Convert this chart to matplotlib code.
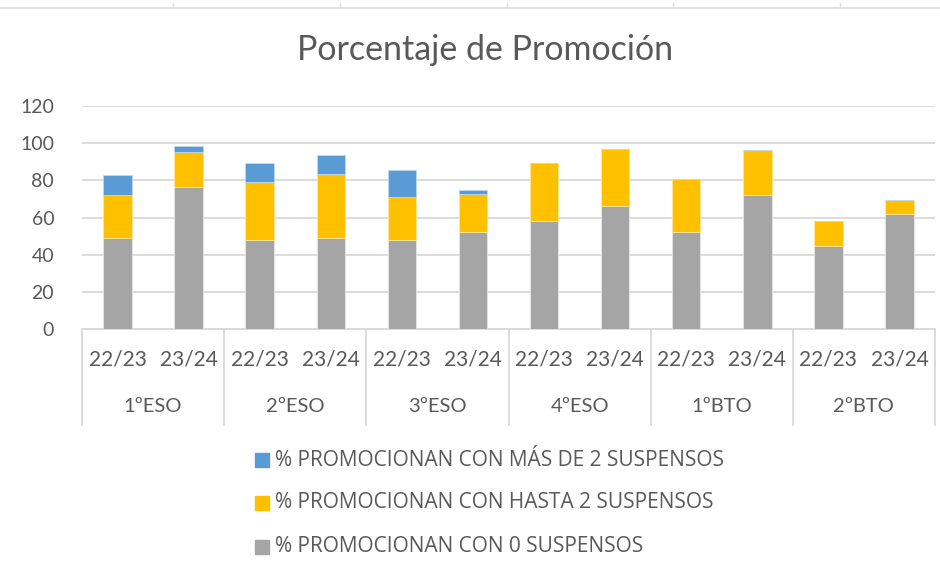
import matplotlib
matplotlib.use("Agg")
import matplotlib.pyplot as plt
from matplotlib.lines import Line2D
import numpy as np

plt.rcParams['font.family'] = ['Lato', 'DejaVu Sans']

groups = ["1ºESO", "2ºESO", "3ºESO", "4ºESO", "1ºBTO", "2ºBTO"]
years = ["22/23", "23/24"]
cero = [48.9, 76.3, 48.0, 48.9, 48.0, 52.3, 58.2, 66.1, 52.3, 72.0, 44.6, 61.8]
hasta2 = [23.1, 19.0, 31.0, 34.4, 23.1, 20.6, 31.0, 30.8, 28.3, 24.2, 13.6, 7.7]
mas2 = [11.1, 3.4, 10.2, 10.2, 14.7, 1.8, 0, 0, 0, 0, 0, 0]
series_names = ["% PROMOCIONAN CON MÁS DE 2 SUSPENSOS",
                "% PROMOCIONAN CON HASTA 2 SUSPENSOS",
                "% PROMOCIONAN CON 0 SUSPENSOS"]
title = "Porcentaje de Promoción"

c_gray = "#A5A5A5"
c_yel = "#FFC000"
c_blue = "#5B9BD5"
txt = "#595959"
grid_c = "#D9D9D9"

W, H = 940, 578
fig = plt.figure(figsize=(W / 100, H / 100), dpi=100)
ax = fig.add_axes([82 / W, 1 - 329.3 / H, (935 - 82) / W, (329.3 - 106) / H])

n = len(cero)
x = np.arange(n)
bw = 0.4
cero_a = np.array(cero); h2 = np.array(hasta2); m2 = np.array(mas2)
ax.bar(x, cero_a, bw, color=c_gray, edgecolor="#E6E6E6", linewidth=0.6, zorder=3)
ax.bar(x, h2, bw, bottom=cero_a, color=c_yel, edgecolor="#FFE699", linewidth=0.6, zorder=3)
ax.bar(x, m2, bw, bottom=cero_a + h2, color=c_blue, edgecolor="#BDD7EE", linewidth=0.6, zorder=3)

ax.set_xlim(-0.5, n - 0.5)
ax.set_ylim(0, 120)
ax.set_yticks(np.arange(0, 121, 20))
ax.yaxis.grid(True, color=grid_c, linewidth=1.3, zorder=0)
ax.tick_params(axis='y', length=0, pad=20, labelsize=14, labelcolor=txt)
ax.set_xticks([])
for s in ["top", "right", "left"]:
    ax.spines[s].set_visible(False)
ax.spines["bottom"].set_color(grid_c)
ax.spines["bottom"].set_linewidth(1.3)

# category labels
trans = ax.get_xaxis_transform()
ax_h_px = 329.3 - 106
def yfrac(py):
    return (329.3 - py) / ax_h_px

for i in range(n):
    ax.text(x[i], yfrac(360), years[i % 2], transform=trans, ha="center", va="center",
            fontsize=15, color=txt, clip_on=False)
for g, name in enumerate(groups):
    ax.text(2 * g + 0.5, yfrac(407), name, transform=trans, ha="center", va="center",
            fontsize=14.5, color=txt, clip_on=False)
for b in range(len(groups) + 1):
    ax.add_line(Line2D([2 * b - 0.5, 2 * b - 0.5], [0, yfrac(425)], transform=trans,
                       color=grid_c, linewidth=1.3, clip_on=False))

# title
fig.text(485 / W, 1 - 50 / H, title, ha="center", va="center", fontsize=24.5,
         color=txt)

# top artifact line
fig.add_artist(Line2D([0, 1], [1 - 8 / H, 1 - 8 / H], color="#E0E0E0", linewidth=1.5))
for tx in [173, 340, 507, 673, 840]:
    fig.add_artist(Line2D([tx / W, tx / W], [1 - 8 / H, 1 - 3 / H], color="#E0E0E0", linewidth=1))

# legend
leg_colors = [c_blue, c_yel, c_gray]
leg_y = [460, 503, 547]
for name, col, py in zip(series_names, leg_colors, leg_y):
    fig.patches.append(plt.Rectangle((255 / W, 1 - (py + 7) / H), 14 / W, 14 / H,
                                     transform=fig.transFigure, color=col, figure=fig))
    fig.text(275 / W, 1 - py / H, name, ha="left", va="center", fontsize=15,
             color=txt, family=["Open Sans", "DejaVu Sans"])

fig.savefig("out.png", dpi=100)
